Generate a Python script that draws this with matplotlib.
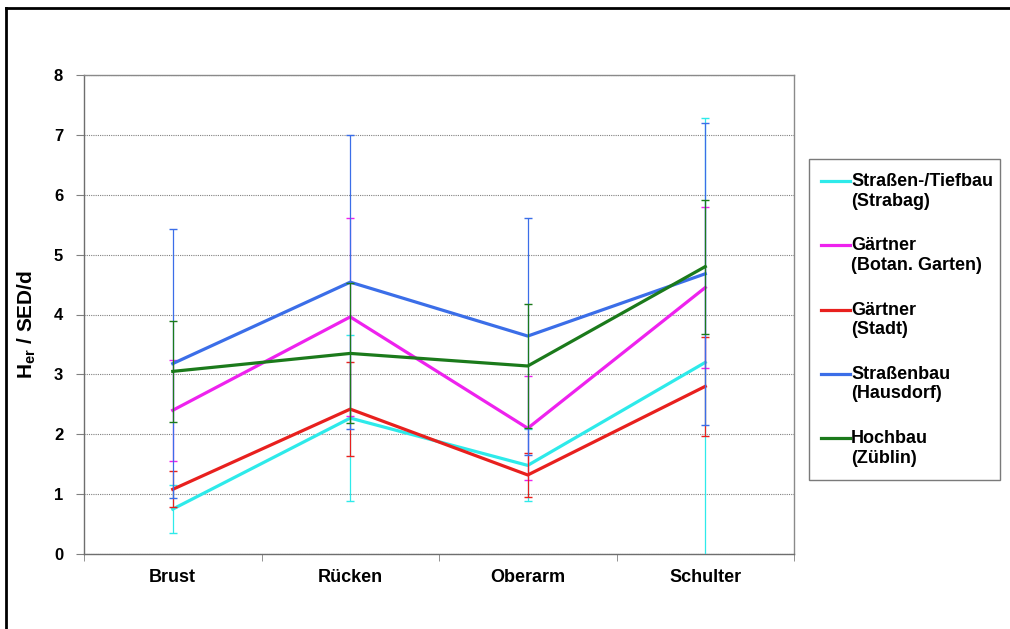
import matplotlib
matplotlib.use("Agg")
import matplotlib.pyplot as plt
from matplotlib.lines import Line2D
from matplotlib.patches import Rectangle

plt.rcParams['font.family'] = ['Liberation Sans', 'DejaVu Sans']
plt.rcParams['mathtext.fontset'] = 'custom'
plt.rcParams['mathtext.rm'] = 'Liberation Sans'
plt.rcParams['mathtext.bf'] = 'Liberation Sans:bold'

# Body regions
categories = ["Brust", "Rücken", "Oberarm", "Schulter"]

# Mean erythemal dose per day and standard deviations for each group
series_labels = [
    "Straßen-/Tiefbau\n(Strabag)",
    "Gärtner\n(Botan. Garten)",
    "Gärtner\n(Stadt)",
    "Straßenbau\n(Hausdorf)",
    "Hochbau\n(Züblin)",
]
series_colors = ["#2EEAEA", "#EE22EE", "#E8201E", "#3B6EE8", "#1B7A1B"]

strabag_mean = [0.75, 2.27, 1.48, 3.20]
strabag_sd = [0.40, 1.38, 0.60, 4.08]

botan_mean = [2.40, 3.96, 2.10, 4.45]
botan_sd = [0.84, 1.66, 0.87, 1.34]

stadt_mean = [1.08, 2.42, 1.32, 2.80]
stadt_sd = [0.30, 0.78, 0.36, 0.83]

hausdorf_mean = [3.18, 4.54, 3.64, 4.68]
hausdorf_sd = [2.25, 2.46, 1.98, 2.52]

zueblin_mean = [3.05, 3.35, 3.14, 4.80]
zueblin_sd = [0.84, 1.17, 1.04, 1.12]

means = [strabag_mean, botan_mean, stadt_mean, hausdorf_mean, zueblin_mean]
sds = [strabag_sd, botan_sd, stadt_sd, hausdorf_sd, zueblin_sd]

y_ticks = [0, 1, 2, 3, 4, 5, 6, 7, 8]

W, H = 1010, 629
fig = plt.figure(figsize=(W / 100, H / 100), dpi=100)
ax = fig.add_axes([84 / W, 1 - 554 / H, (794 - 84) / W, (554 - 75) / H])

x = list(range(len(categories)))
for i, (m, s, c) in enumerate(zip(means, sds, series_colors)):
    ax.errorbar(x, m, yerr=s, color=c, linewidth=2.3, elinewidth=0.9,
                capsize=2.6, capthick=1.0, zorder=3 + i, clip_on=True)

ax.set_xlim(-0.5, len(categories) - 0.5)
ax.set_ylim(0, 8)
ax.set_yticks(y_ticks)
ax.set_yticklabels([str(t) for t in y_ticks], fontsize=12, fontweight='bold')
ax.set_xticks(x)
ax.set_xticklabels(categories, fontsize=13, fontweight='bold')
ax.set_xticks([k + 0.5 for k in range(-1, len(categories))], minor=True)
ax.tick_params(axis='x', which='major', length=0, pad=11)
ax.tick_params(axis='x', which='minor', length=5, direction='out', color='#808080')
ax.tick_params(axis='y', length=6, direction='out', color='#808080', pad=9)

ax.yaxis.grid(True, color='#808080', linestyle=(0, (1, 1)), linewidth=0.8)
ax.set_axisbelow(True)
for side in ['left', 'bottom', 'right', 'top']:
    ax.spines[side].set_color('#8a8a8a')
    ax.spines[side].set_linewidth(1.0)
ax.spines['left'].set_color('#6e6e6e')
ax.spines['bottom'].set_color('#6e6e6e')

ax.set_ylabel(r'$\mathbf{H_{er}}$ / SED/d', fontsize=15, fontweight='bold')
ax.yaxis.set_label_coords((38 - 84) / (794 - 84), 0.48)

# Legend box with handles aligned to the first line of each label
def fx(px):
    return px / W

def fy(py):
    return 1 - py / H

fig.add_artist(Rectangle((fx(809), fy(480)), fx(1000) - fx(809), fy(159) - fy(480),
                         transform=fig.transFigure, facecolor='white',
                         edgecolor='#7a7a7a', linewidth=1.0))
for i, (lab, c) in enumerate(zip(series_labels, series_colors)):
    yl = 181 + 64.3 * i
    fig.add_artist(Line2D([fx(821), fx(850)], [fy(yl), fy(yl)], color=c,
                          linewidth=2.3, transform=fig.transFigure))
    fig.text(fx(851), fy(yl - 8), lab, fontsize=13, fontweight='bold',
             va='top', ha='left', linespacing=1.2)

# Frame lines along the top and left edges
fig.add_artist(Line2D([fx(6), 1], [fy(8), fy(8)], color='black', linewidth=2,
                      transform=fig.transFigure))
fig.add_artist(Line2D([fx(6), fx(6)], [fy(8), 0], color='black', linewidth=2,
                      transform=fig.transFigure))

fig.savefig("out.png", dpi=100)
